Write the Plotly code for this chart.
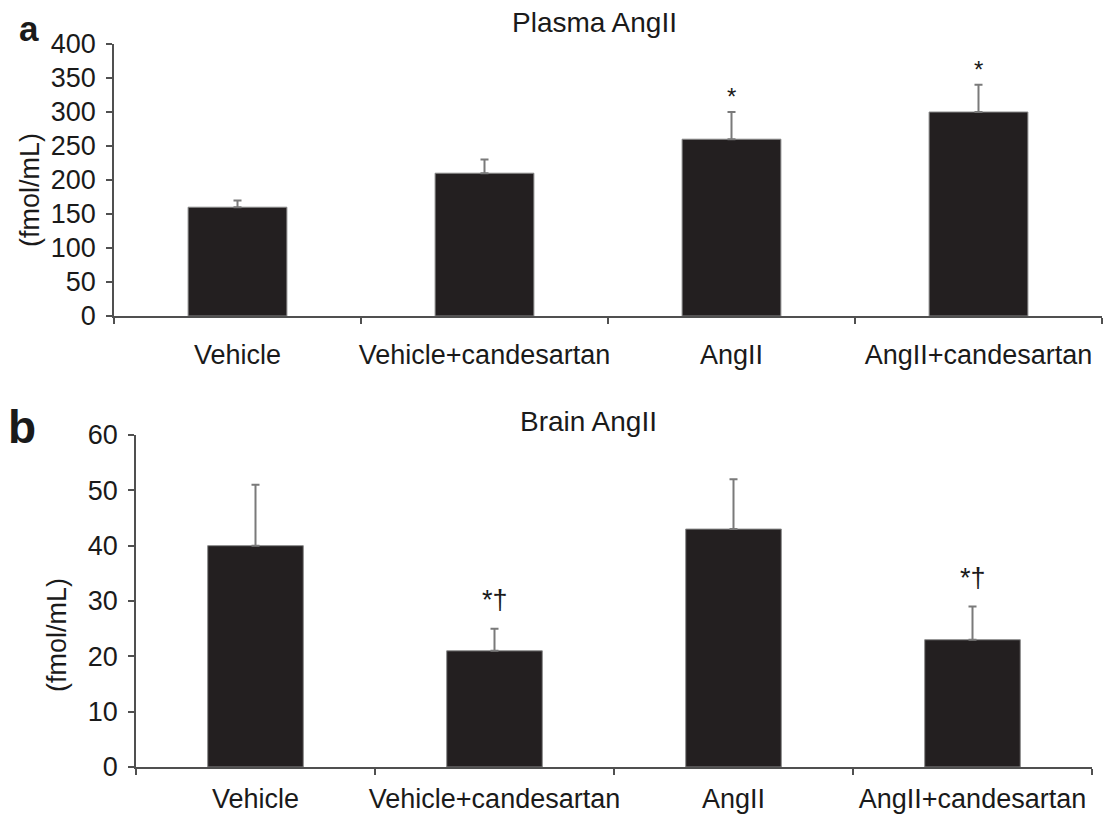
import plotly.graph_objects as go

categories = ["Vehicle", "Vehicle+candesartan", "AngII", "AngII+candesartan"]
plasma_values = [160, 210, 260, 300]
plasma_errors = [10, 20, 40, 40]
plasma_marks = ["", "", "*", "*"]
brain_values = [40, 21, 43, 23]
brain_errors = [11, 4, 9, 6]
brain_marks = ["", "*†", "", "*†"]

# the page body has an 8px default margin; size the figure so it fills the window
OFF = 8
W, H = 1115 - OFF, 814 - OFF
FONT = "Liberation Sans, Arial, sans-serif"
BAR = "#231f20"
AX = "#505050"
TXT = "#1a1a1a"

def px_x(p):
    return (p - OFF) / W

def px_y(p):
    return (H - (p - OFF)) / H

fig = go.Figure()

def add_bars(vals, errs, xa, ya):
    fig.add_trace(go.Bar(
        x=categories, y=vals, xaxis=xa, yaxis=ya, width=0.4,
        marker=dict(color=BAR, line=dict(color="#8a8a8a", width=1)),
        error_y=dict(type="data", symmetric=False, array=errs,
                     arrayminus=[0] * len(errs), color="#7a7a7a",
                     thickness=2, width=4),
        showlegend=False,
    ))

add_bars(plasma_values, plasma_errors, "x", "y")
add_bars(brain_values, brain_errors, "x2", "y2")

def xaxis_style(standoff):
    return dict(type="category", range=[-0.5, 3.5], showline=True, linecolor=AX,
                linewidth=1.5, ticks="outside", tickson="boundaries", ticklen=6,
                tickcolor=AX, tickwidth=1.5, showgrid=False, zeroline=False,
                tickangle=0, automargin=False,
                tickfont=dict(family=FONT, size=27, color=TXT),
                ticklabelstandoff=standoff)

common_y = dict(showline=True, linecolor=AX, linewidth=1.5, ticks="outside",
                ticklen=6, tickcolor=AX, tickwidth=1.5, showgrid=False,
                zeroline=False, automargin=False,
                tickfont=dict(family=FONT, size=27, color=TXT),
                ticklabelstandoff=5)

fig.update_layout(
    width=W, height=H, margin=dict(l=0, r=0, t=0, b=0, autoexpand=False),
    paper_bgcolor="white", plot_bgcolor="white",
    xaxis=dict(domain=[px_x(114), px_x(1102)], anchor="y", **xaxis_style(14)),
    yaxis=dict(domain=[px_y(316), px_y(44)], anchor="x", range=[0, 400],
               tickvals=[0, 50, 100, 150, 200, 250, 300, 350, 400], **common_y),
    xaxis2=dict(domain=[px_x(136), px_x(1092)], anchor="y2", **xaxis_style(7)),
    yaxis2=dict(domain=[px_y(767), px_y(435)], anchor="x2", range=[0, 60],
                tickvals=[0, 10, 20, 30, 40, 50, 60], **common_y),
    bargap=0.6,
)

ann = []
for c, v, e, m in zip(categories, plasma_values, plasma_errors, plasma_marks):
    if m:
        ann.append(dict(x=c, y=v + e, xref="x", yref="y", text=m, showarrow=False,
                        yanchor="bottom", yshift=0, font=dict(family=FONT, size=24, color=TXT)))
for c, v, e, m in zip(categories, brain_values, brain_errors, brain_marks):
    if m:
        ann.append(dict(x=c, y=v + e, xref="x2", yref="y2", text=m, showarrow=False,
                        yanchor="bottom", yshift=12, font=dict(family=FONT, size=27, color=TXT)))

ann += [
    dict(x=px_x(594), y=px_y(22), xref="paper", yref="paper", text="Plasma AngII",
         showarrow=False, xanchor="center", yanchor="middle",
         font=dict(family=FONT, size=28, color=TXT)),
    dict(x=px_x(588), y=px_y(421), xref="paper", yref="paper", text="Brain AngII",
         showarrow=False, xanchor="center", yanchor="middle",
         font=dict(family=FONT, size=28, color=TXT)),
    dict(x=px_x(30), y=px_y(190), xref="paper", yref="paper", text="(fmol/mL)",
         showarrow=False, textangle=-90, xanchor="center", yanchor="middle",
         font=dict(family=FONT, size=27, color=TXT)),
    dict(x=px_x(57), y=px_y(635), xref="paper", yref="paper", text="(fmol/mL)",
         showarrow=False, textangle=-90, xanchor="center", yanchor="middle",
         font=dict(family=FONT, size=27, color=TXT)),
    dict(x=px_x(29), y=1, xref="paper", yref="paper", text="<b>a</b>",
         showarrow=False, xanchor="center", yanchor="top", borderpad=0,
         font=dict(family=FONT, size=35, color=TXT)),
    dict(x=px_x(22), y=px_y(427), xref="paper", yref="paper", text="<b>b</b>",
         showarrow=False, xanchor="center", yanchor="middle",
         font=dict(family=FONT, size=46, color=TXT)),
]
fig.update_layout(annotations=ann)

fig.write_html("out.html")
